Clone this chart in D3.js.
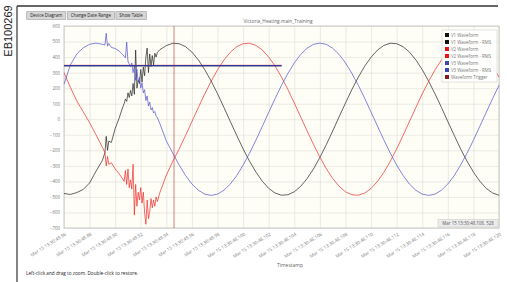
<!DOCTYPE html>
<html><head><meta charset="utf-8">
<script src="https://cdn.jsdelivr.net/npm/d3@7"></script>
<style>body{margin:0;background:#fff;overflow:hidden}text{font-family:"Open Sans",sans-serif}</style>
</head><body><svg id="c" width="507" height="282"></svg>
<script>
// ---------- data ----------
const timeMs = [86, 86.5, 87, 87.5, 88, 88.5,
  89.0, 89.2, 89.3, 89.4, 89.5, 89.7, 90.0, 90.3, 90.6,
  90.7, 90.8, 90.9, 91.0, 91.1, 91.2, 91.3, 91.4, 91.5, 91.6, 91.7, 91.8, 91.9, 92.0,
  92.1, 92.2, 92.3, 92.4, 92.5, 92.6, 92.7, 92.8, 92.9, 93.0, 93.1, 93.2, 93.3,
  93.5, 94.0,
  94.5, 95, 95.5, 96, 96.5, 97, 97.5, 98, 98.5, 99,
  99.5, 100, 100.5, 101, 101.5, 102, 102.5, 103, 103.5, 104,
  104.5, 105, 105.5, 106, 106.5, 107, 107.5, 108, 108.5, 109,
  109.5, 110, 110.5, 111, 111.5, 112, 112.5, 113, 113.5, 114,
  114.5, 115, 115.5, 116, 116.5, 117, 117.5, 118, 118.5, 119,
  119.5, 120];
const v1 = [-478, -484, -472, -452, -410, -335,
  -265, -215, -110, -200, -140, -150, -60, 5, 80,
  100, 130, 115, 170, 140, 185, 150, 230, 160, 445, 200, 250, 230, 320,
  240, 335, 280, 400, 458, 300, 420, 340, 410, 350, 425, 400, 430,
  448, 474,
  489, 486, 467, 432, 382, 319, 246, 164, 76, -15,
  -104, -191, -270, -340, -399, -445, -475, -489, -486, -467,
  -432, -382, -320, -246, -164, -76, 15, 104, 191, 270,
  341, 399, 445, 475, 489, 486, 467, 432, 382, 319,
  245, 163, 76, -15, -104, -191, -270, -340, -399, -445,
  -475, -489];
const v2 = [300, 205, 118, 48, -22, -100,
  -180, -215, -300, -240, -290, -280, -320, -350, -385,
  -400, -330, -420, -320, -440, -390, -450, -290, -616, -420, -560, -470, -520, -440,
  -540, -470, -600, -676, -520, -640, -595, -510, -570, -520, -560, -500, -530,
  -470, -360,
  -271, -191, -105, -15, 75, 163, 244, 318, 381, 431,
  467, 486, 489, 475, 446, 400, 342, 271, 191, 105,
  15, -75, -162, -244, -318, -381, -431, -467, -486, -489,
  -475, -446, -400, -342, -271, -191, -105, -15, 75, 163,
  244, 318, 381, 431, 467, 486, 489, 475, 446, 400,
  342, 271];
const v3 = [225, 350, 420, 460, 482, 490,
  482, 478, 553, 470, 488, 462, 455, 440, 415,
  405, 395, 497, 370, 355, 340, 362, 300, 345, 250, 320, 240, 270, 200,
  235, 170, 190, 120, 150, 85, 110, 60, 75, 40, 50, 20, 10,
  -30, -140,
  -218, -295, -362, -417, -457, -482, -490, -482, -457, -417,
  -363, -295, -219, -135, -46, 44, 133, 218, 295, 362,
  417, 457, 482, 490, 482, 457, 417, 363, 295, 219,
  135, 46, -44, -133, -218, -295, -362, -417, -457, -482,
  -490, -482, -457, -417, -363, -295, -219, -135, -46, 44,
  133, 218];
const rmsTime = [86, 103];
const v1Rms = [344, 344];
const v2Rms = [347, 347];
const v3Rms = [345, 345];
const triggerTime = 94.6;
const yTicks = [600, 500, 400, 300, 200, 100, 0, -100, -200, -300, -400, -500, -600, -700];
const xTicks = [86, 88, 90, 92, 94, 96, 98, 100, 102, 104, 106, 108, 110, 112, 114, 116, 118, 120];
const xTickLabels = ["Mar 15 13:30:48.86", "Mar 15 13:30:48.88", "Mar 15 13:30:48.90", "Mar 15 13:30:48.92",
  "Mar 15 13:30:48.94", "Mar 15 13:30:48.96", "Mar 15 13:30:48.98", "Mar 15 13:30:48.100",
  "Mar 15 13:30:48.102", "Mar 15 13:30:48.104", "Mar 15 13:30:48.106", "Mar 15 13:30:48.108",
  "Mar 15 13:30:48.110", "Mar 15 13:30:48.112", "Mar 15 13:30:48.114", "Mar 15 13:30:48.116",
  "Mar 15 13:30:48.118", "Mar 15 13:30:48.120"];
const legendLabels = ["V1 Waveform", "V1 Waveform - RMS", "V2 Waveform", "V2 Waveform - RMS",
  "V3 Waveform", "V3 Waveform - RMS", "Waveform Trigger"];
const buttonLabels = ["Device Diagram", "Change Date Range", "Show Table"];
const chartTitle = "Victoria_Heating.main_Training";
const xAxisTitle = "Timestamp";
const hintText = "Left-click and drag to zoom. Double-click to restore.";
const tooltipText = "Mar 15 13:30:48.108, 528";
const docCode = "EB100269";

// ---------- styles ----------
const cBlack = "#222", cRed = "#ee2a2a", cBlue = "#5050d0";
const legendColors = ["#111", "#111", "#ee1111", "#ee1111", "#3a48b0", "#3a48b0", "#8a1a1a"];

const svg = d3.select("#c");
const L = 64, R = 499, T = 26, B = 228;
const x = d3.scaleLinear().domain([86, 120]).range([L, R]);
const y = d3.scaleLinear().domain([-700, 600]).range([B, T]);

// frame
svg.append("line").attr("x1", 17).attr("x2", 498).attr("y1", 6).attr("y2", 6).attr("stroke", "#333").attr("stroke-width", 1.6);
svg.append("line").attr("x1", 17).attr("x2", 17).attr("y1", 6).attr("y2", 282).attr("stroke", "#333").attr("stroke-width", 1.2);
svg.append("text").attr("transform", "translate(11.5,31) rotate(-90)").attr("text-anchor", "middle")
  .style("font-family", "'Liberation Sans',Arial,sans-serif").style("font-size", "11px").attr("fill", "#222").text(docCode);

// buttons
let bx = 26.7;
buttonLabels.forEach(lbl => {
  const g = svg.append("g");
  const t = g.append("text").attr("y", 17.3).style("font-size", "4.4px").attr("fill", "#222").text(lbl);
  const w = t.node().getComputedTextLength() + 7;
  g.insert("rect", "text").attr("x", bx).attr("y", 11.7).attr("width", w).attr("height", 7.6)
    .attr("fill", "#d6d6d6").attr("stroke", "#9a9a9a").attr("stroke-width", 0.6);
  t.attr("x", bx + w / 2).attr("text-anchor", "middle");
  bx += w + 1.5;
});

// title
svg.append("text").attr("x", 278).attr("y", 23).attr("text-anchor", "middle").style("font-size", "4.8px").attr("fill", "#666").text(chartTitle);

// plot bg
svg.append("rect").attr("x", L).attr("y", T).attr("width", R - L).attr("height", B - T).attr("fill", "#fefef6");

// grid
svg.append("g").attr("transform", `translate(${L},0)`)
  .call(d3.axisLeft(y).tickValues(yTicks).tickSize(-(R - L)).tickFormat(""))
  .call(g => g.select(".domain").remove())
  .call(g => g.selectAll("line").attr("stroke", "#e2e2dc").attr("stroke-width", 0.7));
svg.append("g").attr("transform", `translate(0,${B})`)
  .call(d3.axisBottom(x).tickValues(xTicks).tickSize(-(B - T)).tickFormat(""))
  .call(g => g.select(".domain").remove())
  .call(g => g.selectAll("line").attr("stroke", "#e2e2dc").attr("stroke-width", 0.7));

// y labels
svg.append("g").attr("transform", `translate(${L},0)`)
  .call(d3.axisLeft(y).tickValues(yTicks).tickSize(0).tickPadding(4))
  .call(g => g.select(".domain").remove())
  .call(g => g.selectAll("text").style("font-size", "4.4px").style("font-family", "'Open Sans',sans-serif").attr("fill", "#777"));

// x labels
svg.append("g").attr("transform", `translate(0,${B})`)
  .call(d3.axisBottom(x).tickValues(xTicks).tickSize(0).tickFormat((d, i) => xTickLabels[i]))
  .call(g => g.select(".domain").remove())
  .call(g => g.selectAll("text").attr("x", 0).attr("y", 0).attr("dy", 0)
    .attr("transform", "translate(2,7) rotate(-32)").style("text-anchor", "end")
    .style("font-size", "4.6px").style("font-family", "'Open Sans',sans-serif").attr("fill", "#808080"));

// plot border
svg.append("rect").attr("x", L).attr("y", T).attr("width", R - L).attr("height", B - T)
  .attr("fill", "none").attr("stroke", "#bdbdbd").attr("stroke-width", 0.8);

// lines
const line = (vals, times) => d3.line().x((d, i) => x(times[i])).y(d => y(d))(vals);
const lines = svg.append("g");
lines.append("path").attr("d", line(v1, timeMs)).attr("fill", "none").attr("stroke", cBlack).attr("stroke-width", 0.7);
lines.append("path").attr("d", line(v2, timeMs)).attr("fill", "none").attr("stroke", cRed).attr("stroke-width", 0.7);
lines.append("path").attr("d", line(v3, timeMs)).attr("fill", "none").attr("stroke", cBlue).attr("stroke-width", 0.7);
lines.append("path").attr("d", line(v1Rms, rmsTime)).attr("fill", "none").attr("stroke", "#222").attr("stroke-width", 1);
lines.append("path").attr("d", line(v2Rms, rmsTime)).attr("fill", "none").attr("stroke", "#dd4444").attr("stroke-width", 0.8);
lines.append("path").attr("d", line(v3Rms, rmsTime)).attr("fill", "none").attr("stroke", "#34349e").attr("stroke-width", 1.4);

// trigger
svg.append("line").attr("x1", x(triggerTime)).attr("x2", x(triggerTime)).attr("y1", T).attr("y2", B)
  .attr("stroke", "#b83030").attr("stroke-opacity", 0.55).attr("stroke-width", 1.1);

// legend
const lg = svg.append("g").attr("transform", "translate(442,30)");
lg.append("rect").attr("width", 55).attr("height", 52).attr("fill", "#fff").attr("fill-opacity", 0.9).attr("stroke", "#d0d0d0").attr("stroke-width", 0.6);
legendLabels.forEach((lbl, i) => {
  const yy = 5 + i * 7;
  lg.append("rect").attr("x", 3).attr("y", yy - 2).attr("width", 4).attr("height", 4).attr("fill", legendColors[i]);
  lg.append("text").attr("x", 9).attr("y", yy + 1.6).style("font-size", "4.4px").attr("fill", "#777").text(lbl);
});

// tooltip box
const tg = svg.append("g");
tg.append("rect").attr("x", 438).attr("y", 219.5).attr("width", 60).attr("height", 7.5).attr("fill", "#ececec").attr("stroke", "#c4c4c4").attr("stroke-width", 0.5);
tg.append("text").attr("x", 468).attr("y", 224.8).attr("text-anchor", "middle").style("font-size", "4.4px").attr("fill", "#555").text(tooltipText);

// axis title & hint
svg.append("text").attr("x", 290).attr("y", 267).attr("text-anchor", "middle").style("font-size", "5px").attr("fill", "#666").text(xAxisTitle);
svg.append("text").attr("x", 26).attr("y", 274.5).style("font-size", "4.7px").attr("fill", "#222").text(hintText);
</script></body></html>
